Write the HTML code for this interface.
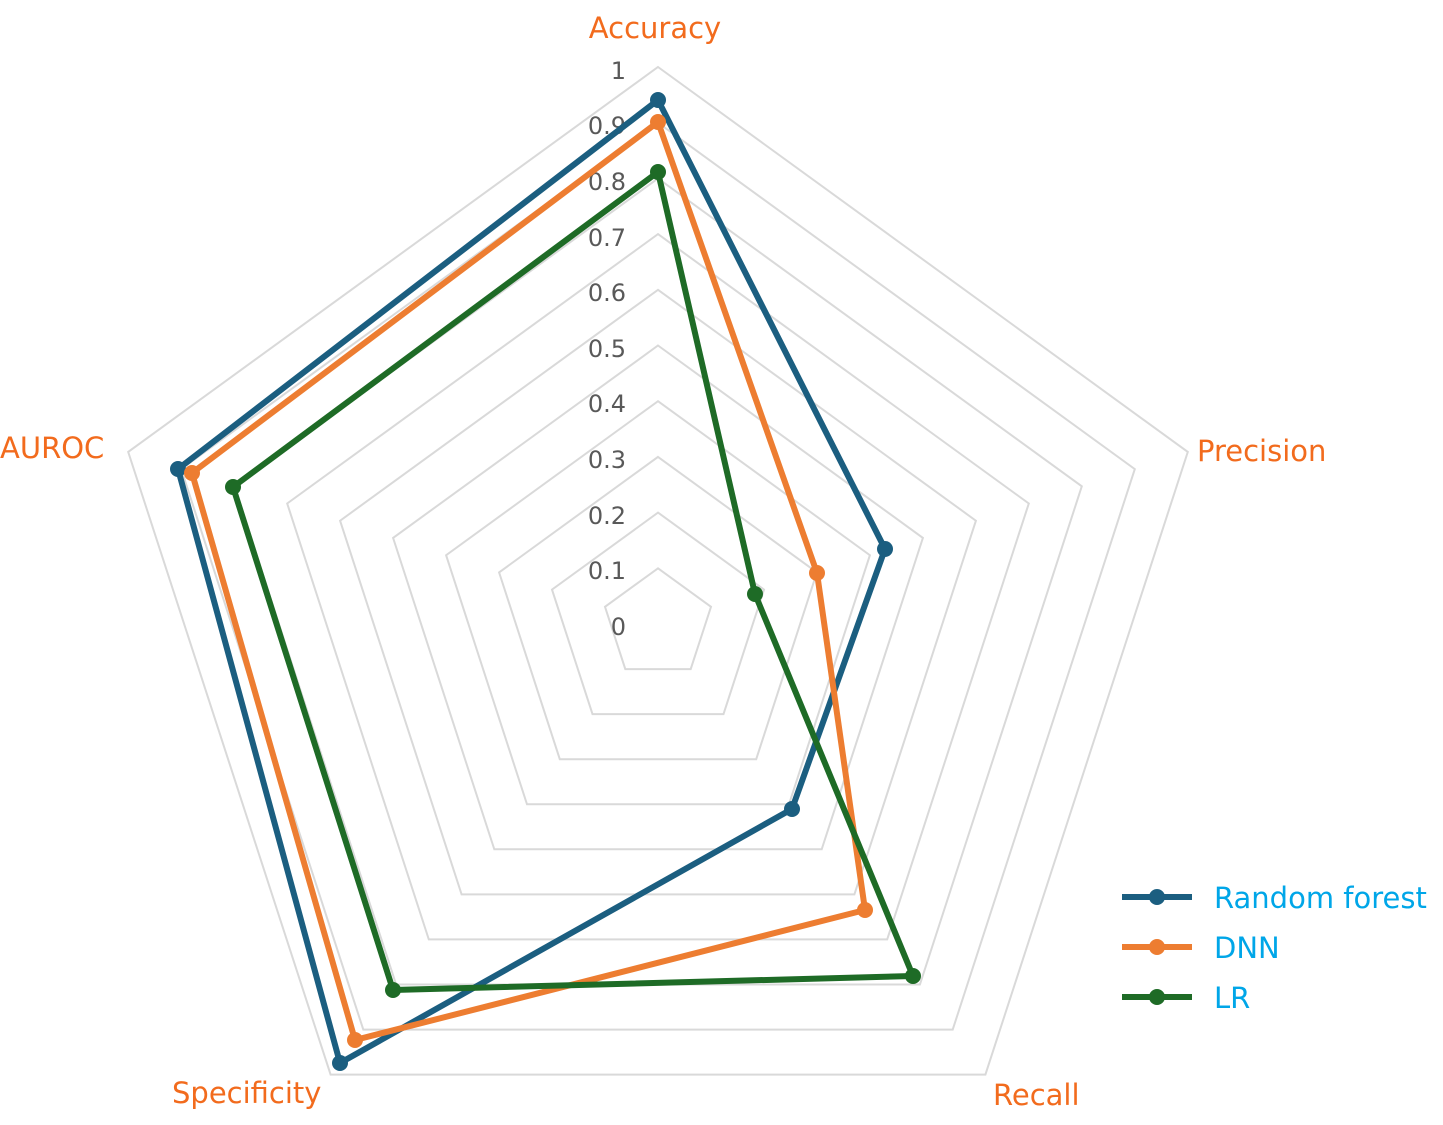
<!DOCTYPE html>
<html><head><style>body{margin:0;background:#fff}svg{display:block}</style></head>
<body>
<svg width="1443" height="1125" viewBox="0 0 1443 1125" xmlns="http://www.w3.org/2000/svg" font-family="'DejaVu Sans','Liberation Sans',sans-serif">
<g fill="none" stroke="#d9d9d9" stroke-width="2">
<polygon points="658,568.3 711,606.8 690.7,669.1 625.3,669.1 605,606.8"/>
<polygon points="658,512.6 764,589.6 723.5,714.1 592.5,714.1 552,589.6"/>
<polygon points="658,456.9 816.9,572.4 756.2,759.2 559.8,759.2 499.1,572.4"/>
<polygon points="658,401.2 869.9,555.2 789,804.3 527,804.3 446.1,555.2"/>
<polygon points="658,345.5 922.9,537.9 821.7,849.3 494.3,849.3 393.1,537.9"/>
<polygon points="658,289.8 975.9,520.7 854.4,894.4 461.6,894.4 340.1,520.7"/>
<polygon points="658,234.1 1028.8,503.5 887.2,939.4 428.8,939.4 287.2,503.5"/>
<polygon points="658,178.4 1081.8,486.3 919.9,984.5 396.1,984.5 234.2,486.3"/>
<polygon points="658,122.7 1134.8,469.1 952.7,1029.6 363.3,1029.6 181.2,469.1"/>
<polygon points="658,67 1187.8,451.9 985.4,1074.6 330.6,1074.6 128.2,451.9"/>
</g>
<g fill="#595959" font-size="24" text-anchor="end">
<text x="626" y="79">1</text><text x="626" y="134">0.9</text><text x="626" y="190">0.8</text><text x="626" y="246">0.7</text><text x="626" y="301">0.6</text><text x="626" y="357">0.5</text><text x="626" y="412">0.4</text><text x="626" y="468">0.3</text><text x="626" y="524">0.2</text><text x="626" y="579">0.1</text><text x="626" y="635">0</text>
</g>
<g fill="#f26b1d" font-size="29">
<text x="655" y="38" text-anchor="middle">Accuracy</text>
<text x="1197" y="461">Precision</text>
<text x="993" y="1105">Recall</text>
<text x="172" y="1103">Specificity</text>
<text x="0" y="458">AUROC</text>
</g>
<g stroke-width="6" stroke-linejoin="round" fill="none">
<polygon stroke="#1b5e80" points="658,100 885,549 792,809 340,1063 178,469"/>
<polygon stroke="#ed7d31" points="658,122 817,573 865,910 355,1040 192,473"/>
<polygon stroke="#1e6b26" points="658,172 755,594 913,976 393,990 233,487"/>
</g>
<g fill="#1b5e80"><circle cx="658" cy="100" r="8"/><circle cx="885" cy="549" r="8"/><circle cx="792" cy="809" r="8"/><circle cx="340" cy="1063" r="8"/><circle cx="178" cy="469" r="8"/></g>
<g fill="#ed7d31"><circle cx="658" cy="122" r="8"/><circle cx="817" cy="573" r="8"/><circle cx="865" cy="910" r="8"/><circle cx="355" cy="1040" r="8"/><circle cx="192" cy="473" r="8"/></g>
<g fill="#1e6b26"><circle cx="658" cy="172" r="8"/><circle cx="755" cy="594" r="8"/><circle cx="913" cy="976" r="8"/><circle cx="393" cy="990" r="8"/><circle cx="233" cy="487" r="8"/></g>
<g stroke-width="6">
<line x1="1122" y1="897" x2="1192" y2="897" stroke="#1b5e80"/><circle cx="1157" cy="897" r="8" fill="#1b5e80"/>
<line x1="1122" y1="947" x2="1192" y2="947" stroke="#ed7d31"/><circle cx="1157" cy="947" r="8" fill="#ed7d31"/>
<line x1="1122" y1="997" x2="1192" y2="997" stroke="#1e6b26"/><circle cx="1157" cy="997" r="8" fill="#1e6b26"/>
</g>
<g fill="#00a6e8" font-size="29">
<text x="1214" y="908">Random forest</text><text x="1214" y="958">DNN</text><text x="1214" y="1008">LR</text>
</g>
</svg>
</body></html>
